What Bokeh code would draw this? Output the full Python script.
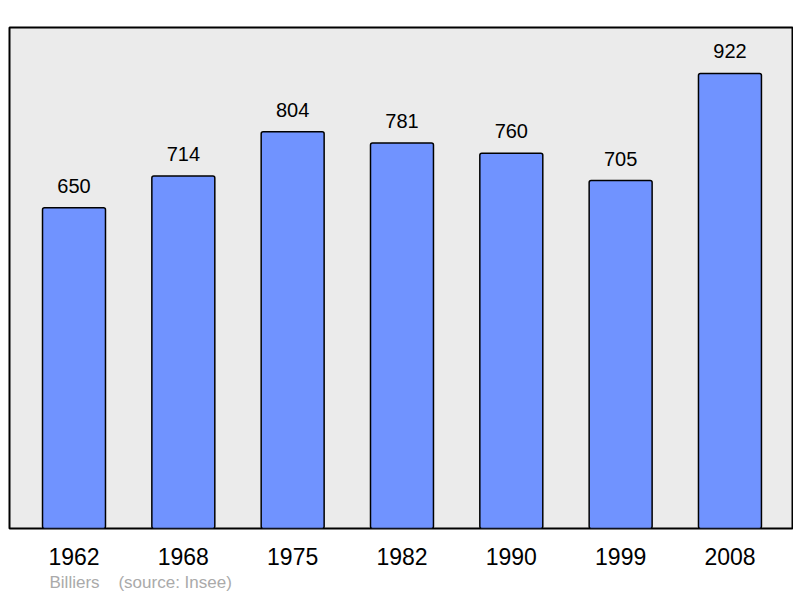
from bokeh.plotting import figure
from bokeh.models import ColumnDataSource, Range1d, Title, FixedTicker
from bokeh.core.properties import value
from bokeh.embed import file_html
from bokeh.resources import INLINE

years = ["1962", "1968", "1975", "1982", "1990", "1999", "2008"]
population = [650, 714, 804, 781, 760, 705, 922]
caption_place = "Billiers"
caption_source = "(source: Insee)"

FONT = "Liberation Sans"
idx = list(range(len(years)))
src = ColumnDataSource(dict(x=idx, top=population, label=[str(v) for v in population]))

p = figure(frame_width=783, frame_height=501, output_backend="svg", toolbar_location=None,
           x_range=Range1d(-0.59, 6.572), y_range=Range1d(0, 1015),
           min_border_left=9, min_border_right=1, min_border_top=27, min_border_bottom=0)

p.background_fill_color = "#EBEBEB"
p.border_fill_color = "white"
p.outline_line_color = "black"
p.outline_line_width = 2
p.xgrid.visible = False
p.ygrid.visible = False
p.yaxis.visible = False

p.vbar(x="x", top="top", width=0.576, bottom=0, source=src,
       fill_color="#7093FF", line_color="black", line_width=1.5, border_radius=2)

p.text(x="x", y="top", text="label", source=src, y_offset=-22,
       text_align="center", text_baseline="alphabetic",
       text_font=value(FONT), text_font_size="20px", text_color="black")

ax = p.xaxis[0]
ax.ticker = FixedTicker(ticks=idx)
ax.major_label_overrides = {i: y for i, y in zip(idx, years)}
ax.axis_line_color = None
ax.major_tick_line_color = None
ax.minor_tick_line_color = None
ax.major_tick_out = 0
ax.major_tick_in = 0
ax.minor_tick_out = 0
ax.major_label_standoff = 19
ax.major_label_text_font = FONT
ax.major_label_text_font_size = "23px"
ax.major_label_text_color = "black"

p.add_layout(Title(text=caption_place + "\u00a0\u00a0\u00a0\u00a0" + caption_source,
                   align="left", offset=40, standoff=7,
                   text_font=FONT, text_font_size="17px", text_font_style="normal",
                   text_color="#AAAAAA"), "below")

open("out.html", "w").write(file_html(p, INLINE))
